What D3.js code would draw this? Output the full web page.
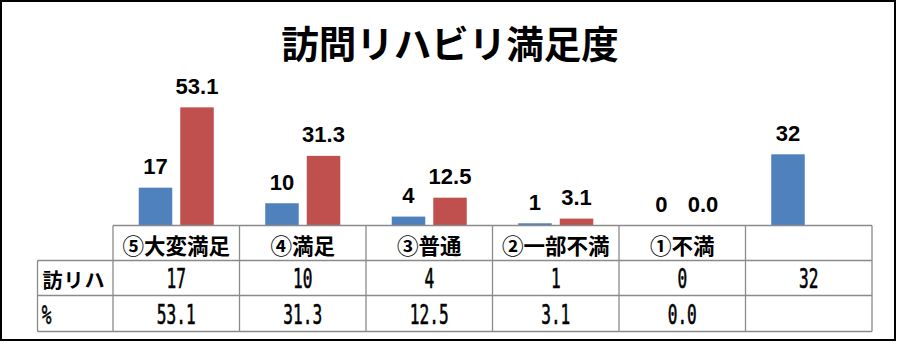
<!DOCTYPE html>
<html>
<head>
<meta charset="utf-8">
<script src="https://cdn.jsdelivr.net/npm/d3@7"></script>
<style>
  body { margin: 0; background: #fff; }
  svg { display: block; }
</style>
</head>
<body>
<div class="container"></div>
<script>
const title = '訪問リハビリ満足度';
const categories = ['⑤大変満足', '④満足', '③普通', '②一部不満', '①不満', ''];
const seriesNames = ['訪リハ', '%'];
const visits = [17, 10, 4, 1, 0, 32];
const percents = [53.1, 31.3, 12.5, 3.1, 0.0, null];
const visitLabels = ['17', '10', '4', '1', '0', '32'];
const percentLabels = ['53.1', '31.3', '12.5', '3.1', '0.0', ''];

const w = 897,
    h = 342;
const colors = ['#4F81BD', '#C0504D'];
const grid = '#8a8a8a';
const cjk = '"Noto Sans CJK JP", sans-serif';

const svg = d3.select('.container')
  .append('svg')
  .attr('width', w)
  .attr('height', h);

svg.append('rect')
  .attr('x', 1).attr('y', 1)
  .attr('width', 894).attr('height', 339)
  .attr('fill', '#fff')
  .attr('stroke', '#000')
  .attr('stroke-width', 2);

svg.append('text')
  .attr('x', 450).attr('y', 41)
  .attr('text-anchor', 'middle')
  .attr('dominant-baseline', 'central')
  .style('font-family', cjk)
  .style('font-weight', 'bold')
  .style('font-size', '37.5px')
  .text(title);

// scales
const xScale = d3.scaleBand()
  .domain(d3.range(categories.length))
  .range([113, 872]);

const inner = d3.scaleBand()
  .domain([0, 1])
  .range([0, xScale.bandwidth()])
  .paddingInner(0.193)
  .paddingOuter(0.62);

const yScale = d3.scaleLinear()
  .domain([0, 60])
  .range([225.5, 92]);

const rows = categories.map((c, i) => ({
  i: i,
  vals: [visits[i], percents[i]],
  labels: [visitLabels[i], percentLabels[i]]
}));

const bars = [];
rows.forEach(r => r.vals.forEach((v, k) => {
  if (v !== null) bars.push({ i: r.i, k: k, v: v, label: r.labels[k] });
}));

svg.selectAll('rect.bar')
  .data(bars)
  .enter()
  .append('rect')
  .attr('class', 'bar')
  .attr('x', d => xScale(d.i) + inner(d.k))
  .attr('width', inner.bandwidth())
  .attr('y', d => yScale(d.v))
  .attr('height', d => yScale(0) - yScale(d.v))
  .attr('fill', d => colors[d.k]);

svg.selectAll('text.val')
  .data(bars)
  .enter()
  .append('text')
  .attr('class', 'val')
  .attr('x', d => xScale(d.i) + inner(d.k) + inner.bandwidth() / 2)
  .attr('y', d => yScale(d.v) - 13.5)
  .attr('text-anchor', 'middle')
  .style('font-family', '"Liberation Sans", Arial, sans-serif')
  .style('font-weight', 'bold')
  .style('font-size', '22px')
  .text(d => d.label);

// data table
const rowY = [225.5, 260.5, 295.5, 331.5];
const labelX = 37.5;
const tg = svg.append('g')
  .attr('stroke', grid)
  .attr('stroke-width', 1.3)
  .attr('fill', 'none');

tg.append('line').attr('x1', 113).attr('x2', 872).attr('y1', rowY[0]).attr('y2', rowY[0]);
rowY.slice(1).forEach(y => {
  tg.append('line').attr('x1', labelX).attr('x2', 872).attr('y1', y).attr('y2', y);
});
tg.append('line').attr('x1', labelX).attr('x2', labelX).attr('y1', rowY[1]).attr('y2', rowY[3]);
d3.range(categories.length + 1).forEach(j => {
  const x = j < categories.length ? xScale(j) : xScale.range()[1];
  tg.append('line').attr('x1', x).attr('x2', x).attr('y1', rowY[0]).attr('y2', rowY[3]);
});

const mid = (a, b) => (a + b) / 2;

svg.selectAll('text.cat')
  .data(categories)
  .enter()
  .append('text')
  .attr('class', 'cat')
  .attr('x', (d, i) => xScale(i) + xScale.bandwidth() / 2)
  .attr('y', mid(rowY[0], rowY[1]) + 1)
  .attr('text-anchor', 'middle')
  .attr('dominant-baseline', 'central')
  .style('font-family', cjk)
  .style('font-weight', 'bold')
  .style('font-size', '21.5px')
  .text(d => d);

svg.append('text')
  .attr('x', labelX + 5)
  .attr('y', mid(rowY[1], rowY[2]) + 1)
  .attr('dominant-baseline', 'central')
  .style('font-family', cjk)
  .style('font-weight', 'bold')
  .style('font-size', '20px')
  .style('letter-spacing', '1px')
  .text(seriesNames[0]);

// narrow monospaced digits for the table cells
function cell(x, y, str) {
  svg.append('text')
    .attr('transform', `translate(${x},${y}) scale(0.62,1)`)
    .attr('text-anchor', 'middle')
    .style('font-family', '"DejaVu Sans Mono", monospace')
    .style('font-size', '26px')
    .style('stroke', '#000')
    .style('stroke-width', 0.6)
    .text(str);
}

cell(labelX + 9, mid(rowY[2], rowY[3]) + 10, seriesNames[1]);
visitLabels.forEach((s, i) => cell(xScale(i) + xScale.bandwidth() / 2, mid(rowY[1], rowY[2]) + 10, s));
percentLabels.forEach((s, i) => cell(xScale(i) + xScale.bandwidth() / 2, mid(rowY[2], rowY[3]) + 10, s));
</script>
</body>
</html>
